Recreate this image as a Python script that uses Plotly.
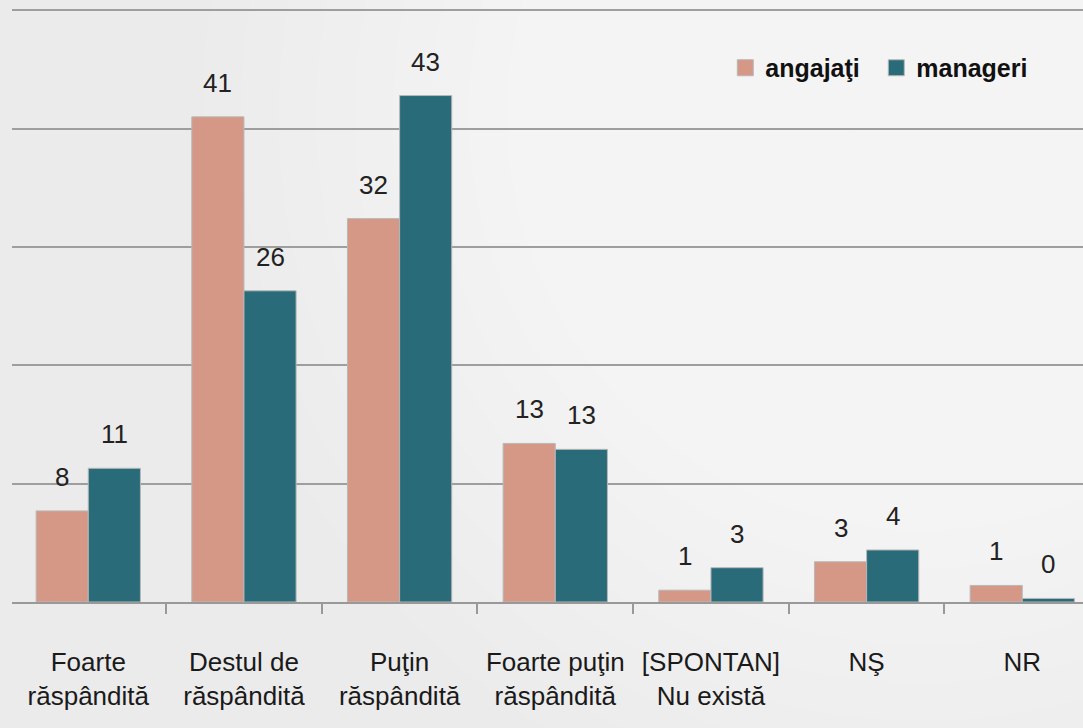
import plotly.graph_objects as go

categories = ["Foarte<br>răspândită", "Destul de<br>răspândită", "Puţin<br>răspândită",
              "Foarte puţin<br>răspândită", "[SPONTAN]<br>Nu există", "NŞ", "NR"]
angajati = [7.7, 41.0, 32.4, 13.4, 1.0, 3.4, 1.4]
manageri = [11.3, 26.3, 42.8, 12.9, 2.9, 4.4, 0.3]
labels_angajati = ["8", "41", "32", "13", "1", "3", "1"]
labels_manageri = ["11", "26", "43", "13", "3", "4", "0"]
series_names = ["angajaţi", "manageri"]

FONT = "Liberation Sans Narrow, Liberation Sans, Arial"
C_ANG = "#D59886"
C_MAN = "#2A6B7A"

fig = go.Figure()
fig.add_trace(go.Bar(name=series_names[0], x=categories, y=angajati, showlegend=False,
                     marker=dict(color=C_ANG, line=dict(color="#B8B8B8", width=1))))
fig.add_trace(go.Bar(name=series_names[1], x=categories, y=manageri, showlegend=False,
                     marker=dict(color=C_MAN, line=dict(color="#B8B8B8", width=1))))
# legend entries with larger square swatches
for name, col in zip(series_names, [C_ANG, C_MAN]):
    fig.add_trace(go.Scatter(name=name, x=[None], y=[None], mode="markers",
                             marker=dict(symbol="square", size=17, color=col,
                                         line=dict(color="#B8B8B8", width=1))))

bargap = 0.33
half = (1 - bargap) / 4
annotations = []
for i, (va, vm, la, lm) in enumerate(zip(angajati, manageri, labels_angajati, labels_manageri)):
    annotations.append(dict(x=i - half, y=va, xref="x", yref="y", text=la, showarrow=False,
                            yanchor="middle", yshift=34, font=dict(family=FONT, size=26, color="#222")))
    annotations.append(dict(x=i + half, y=vm, xref="x", yref="y", text=lm, showarrow=False,
                            yanchor="middle", yshift=34, font=dict(family=FONT, size=26, color="#222")))

# soft radial light towards the upper right (background decoration)
PW, PH = 1071.0, 594.0
cx, cy = 0.85, 0.82
shapes = []
for k in range(18):
    r = 720 - k * 38
    shapes.append(dict(type="circle", xref="paper", yref="paper", layer="below",
                       x0=cx - r / PW, x1=cx + r / PW, y0=cy - r / PH, y1=cy + r / PH,
                       fillcolor="rgba(255,255,255,0.08)", line=dict(width=0)))

fig.update_layout(
    width=1083, height=728,
    margin=dict(l=12, r=0, t=8, b=126),
    paper_bgcolor="#EBEBEB", plot_bgcolor="rgba(0,0,0,0)",
    barmode="group", bargap=bargap, bargroupgap=0,
    font=dict(family=FONT, size=26, color="#1a1a1a"),
    showlegend=True,
    legend=dict(orientation="h", x=0.666, y=0.899, xanchor="left", yanchor="middle",
                bgcolor="rgba(0,0,0,0)", font=dict(family=FONT, size=25, color="#111",
                                                   weight="bold"),
                itemwidth=30, entrywidth=106, entrywidthmode="pixels"),
    annotations=annotations,
    shapes=shapes,
)
fig.update_xaxes(type="category", range=[-0.49, 6.39], tickson="boundaries",
                 ticks="outside", ticklen=10, tickcolor="#999999", tickwidth=1.5,
                 ticklabelstandoff=36,
                 showline=True, linecolor="#999999", linewidth=2,
                 showgrid=False, tickfont=dict(family=FONT, size=26, color="#1a1a1a"))
fig.update_yaxes(range=[0, 50.2], dtick=10, showgrid=True, gridcolor="#9E9E9E", gridwidth=2,
                 showticklabels=False, zeroline=False, showline=False)

fig.write_html("out.html", config={"displayModeBar": False},
               post_script="document.body.style.margin='0';document.body.style.overflow='hidden';")
